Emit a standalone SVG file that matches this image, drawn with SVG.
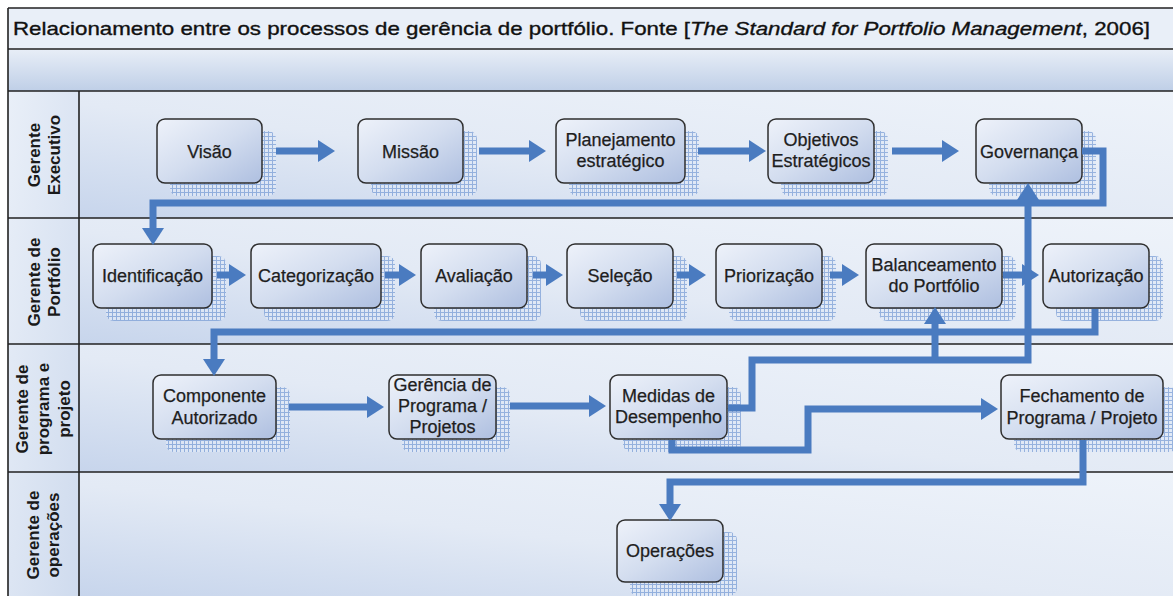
<svg xmlns="http://www.w3.org/2000/svg" width="1173" height="596" viewBox="0 0 1173 596">
<defs>
<style>
.lbl{font-family:"Liberation Sans",Arial,sans-serif;font-size:17px;font-weight:bold;fill:#1a1a1a;text-anchor:middle}
.nt{font-family:"Liberation Sans",Arial,sans-serif;font-size:18px;fill:#1e1e1e;text-anchor:middle;stroke:#1e1e1e;stroke-width:0.25}
.box{fill:url(#nodeG);stroke:#2e2e2e;stroke-width:1.5}
.sh{fill:url(#grid);opacity:0.75}
.con{fill:none;stroke:#4a7bc0;stroke-width:7;stroke-linejoin:miter;marker-end:url(#ah)}
.fr{stroke:#222;stroke-width:1.6;fill:none}
</style>
<linearGradient id="nodeG" x1="0" y1="0" x2="1" y2="1">
<stop offset="0" stop-color="#eef2fa"/><stop offset="0.5" stop-color="#d3ddef"/><stop offset="1" stop-color="#aebfe0"/>
</linearGradient>
<linearGradient id="laneG" x1="1" y1="0" x2="0" y2="1">
<stop offset="0" stop-color="#eef3fa"/><stop offset="0.55" stop-color="#e3eaf5"/><stop offset="1" stop-color="#c7d5ec"/>
</linearGradient>
<linearGradient id="bandG" x1="0" y1="0" x2="0" y2="1">
<stop offset="0" stop-color="#e8eef7"/><stop offset="1" stop-color="#bfcfe7"/>
</linearGradient>
<linearGradient id="colG" x1="0" y1="0" x2="1" y2="1">
<stop offset="0" stop-color="#e9eff8"/><stop offset="1" stop-color="#cfdbee"/>
</linearGradient>
<pattern id="grid" width="4" height="4" patternUnits="userSpaceOnUse">
<rect width="4" height="4" fill="#dfe8f6"/>
<path d="M0 0.5H4M0.5 0V4" stroke="#7c9fd6" stroke-width="1"/>
</pattern>
<marker id="ah" markerUnits="userSpaceOnUse" markerWidth="18" markerHeight="22" refX="0" refY="11" orient="auto">
<path d="M0 0L17 11L0 22Z" fill="#4a7bc0"/>
</marker>
</defs>

<g id="background">
<rect x="0" y="0" width="1173" height="596" fill="#ffffff"/>
<rect x="8" y="8" width="1165" height="41" fill="#e9eff8"/>
<rect x="8" y="49" width="1165" height="42" fill="url(#bandG)"/>
<rect x="79" y="91" width="1094" height="127" fill="url(#laneG)"/>
<rect x="79" y="218" width="1094" height="126" fill="url(#laneG)"/>
<rect x="79" y="344" width="1094" height="128" fill="url(#laneG)"/>
<rect x="79" y="472" width="1094" height="124" fill="url(#laneG)"/>
<rect x="8" y="91" width="71" height="505" fill="url(#colG)"/>
<path class="fr" d="M8 8H1173M8 49H1173M8 91H1173M8 218H1173M8 344H1173M8 472H1173M8 8V596M79 91V596"/>
<text x="13" y="35" font-family="'Liberation Sans',Arial,sans-serif" font-size="19" fill="#111" stroke="#111" stroke-width="0.35" textLength="1137" lengthAdjust="spacingAndGlyphs">Relacionamento entre os processos de gerência de portfólio. Fonte [<tspan font-style="italic">The Standard for Portfolio Management</tspan>, 2006]</text>
</g>

<g id="lane-labels">
<text class="lbl" transform="translate(43,155) rotate(-90)"><tspan x="0" y="-3">Gerente</tspan><tspan x="0" y="17">Executivo</tspan></text>
<text class="lbl" transform="translate(43,282) rotate(-90)"><tspan x="0" y="-3">Gerente de</tspan><tspan x="0" y="17">Portfólio</tspan></text>
<text class="lbl" transform="translate(43,409) rotate(-90)"><tspan x="0" y="-15">Gerente de</tspan><tspan x="0" y="6">programa e</tspan><tspan x="0" y="27">projeto</tspan></text>
<text class="lbl" transform="translate(43,535) rotate(-90)"><tspan x="0" y="-4">Gerente de</tspan><tspan x="0" y="16">operações</tspan></text>
</g>

<g id="n-visao"><rect class="sh" x="170" y="131" width="106" height="65" rx="8"/><rect class="box" x="157" y="119" width="105" height="64" rx="8"/><text class="nt" x="209.5" y="158">Visão</text></g>
<g id="n-missao"><rect class="sh" x="371" y="131" width="106" height="65" rx="8"/><rect class="box" x="358" y="119" width="105" height="64" rx="8"/><text class="nt" x="410.5" y="158">Missão</text></g>
<g id="n-planejamento"><rect class="sh" x="569" y="131" width="130" height="65" rx="8"/><rect class="box" x="556" y="119" width="129" height="64" rx="8"/><text class="nt" x="620.5"><tspan x="620.5" y="146">Planejamento</tspan><tspan x="620.5" y="167">estratégico</tspan></text></g>
<g id="n-objetivos"><rect class="sh" x="781" y="131" width="107" height="65" rx="8"/><rect class="box" x="768" y="119" width="106" height="64" rx="8"/><text class="nt" x="821"><tspan x="821" y="146">Objetivos</tspan><tspan x="821" y="167">Estratégicos</tspan></text></g>
<g id="n-governanca"><rect class="sh" x="989" y="131" width="107" height="65" rx="8"/><rect class="box" x="976" y="119" width="106" height="64" rx="8"/><text class="nt" x="1029" y="158">Governança</text></g>

<g id="n-identificacao"><rect class="sh" x="106" y="256" width="120" height="65" rx="8"/><rect class="box" x="93" y="244" width="119" height="64" rx="8"/><text class="nt" x="152.5" y="282">Identificação</text></g>
<g id="n-categorizacao"><rect class="sh" x="264" y="256" width="131" height="65" rx="8"/><rect class="box" x="251" y="244" width="130" height="64" rx="8"/><text class="nt" x="316" y="282">Categorização</text></g>
<g id="n-avaliacao"><rect class="sh" x="434" y="256" width="107" height="65" rx="8"/><rect class="box" x="421" y="244" width="106" height="64" rx="8"/><text class="nt" x="474" y="282">Avaliação</text></g>
<g id="n-selecao"><rect class="sh" x="580" y="256" width="107" height="65" rx="8"/><rect class="box" x="567" y="244" width="106" height="64" rx="8"/><text class="nt" x="620" y="282">Seleção</text></g>
<g id="n-priorizacao"><rect class="sh" x="729" y="256" width="107" height="65" rx="8"/><rect class="box" x="716" y="244" width="106" height="64" rx="8"/><text class="nt" x="769" y="282">Priorização</text></g>
<g id="n-balanceamento"><rect class="sh" x="879" y="256" width="137" height="65" rx="8"/><rect class="box" x="866" y="244" width="136" height="64" rx="8"/><text class="nt" x="934"><tspan x="934" y="271">Balanceamento</tspan><tspan x="934" y="292">do Portfólio</tspan></text></g>
<g id="n-autorizacao"><rect class="sh" x="1056" y="256" width="107" height="65" rx="8"/><rect class="box" x="1043" y="244" width="106" height="64" rx="8"/><text class="nt" x="1096" y="282">Autorização</text></g>

<g id="n-componente"><rect class="sh" x="166" y="387" width="124" height="65" rx="8"/><rect class="box" x="153" y="375" width="123" height="64" rx="8"/><text class="nt" x="214.5"><tspan x="214.5" y="402">Componente</tspan><tspan x="214.5" y="424">Autorizado</tspan></text></g>
<g id="n-gerencia"><rect class="sh" x="402" y="387" width="108" height="65" rx="8"/><rect class="box" x="389" y="375" width="107" height="64" rx="8"/><text class="nt" x="442.5"><tspan x="442.5" y="391">Gerência de</tspan><tspan x="442.5" y="412">Programa /</tspan><tspan x="442.5" y="433">Projetos</tspan></text></g>
<g id="n-medidas"><rect class="sh" x="623" y="387" width="118" height="65" rx="8"/><rect class="box" x="610" y="375" width="117" height="64" rx="8"/><text class="nt" x="668.5"><tspan x="668.5" y="402">Medidas de</tspan><tspan x="668.5" y="423">Desempenho</tspan></text></g>
<g id="n-fechamento"><rect class="sh" x="1014" y="387" width="163" height="65" rx="8"/><rect class="box" x="1001" y="375" width="162" height="64" rx="8"/><text class="nt" x="1082"><tspan x="1082" y="402">Fechamento de</tspan><tspan x="1082" y="424">Programa / Projeto</tspan></text></g>

<g id="n-operacoes"><rect class="sh" x="630" y="532" width="107" height="64" rx="8"/><rect class="box" x="617" y="520" width="106" height="62" rx="8"/><text class="nt" x="670" y="557">Operações</text></g>

<g id="connectors">
<path class="con" d="M276 151H318"/>
<path class="con" d="M479 151H529"/>
<path class="con" d="M698 151H749"/>
<path class="con" d="M892 151H942"/>
<path class="con" d="M1082 151H1103V203H153V228"/>
<path class="con" d="M217 275H229"/>
<path class="con" d="M385 275H399"/>
<path class="con" d="M533 275H546"/>
<path class="con" d="M677 275H689"/>
<path class="con" d="M830 275H842"/>
<path class="con" d="M1003 275H1022"/>
<path class="con" d="M1095 309V332H214V359"/>
<path class="con" d="M289 407H367"/>
<path class="con" d="M510 406H589"/>
<path class="con" d="M728 408H752V360H1028V200"/>
<path class="con" d="M935 360V324"/>
<path class="con" d="M672 440V450H808V409H981"/>
<path class="con" d="M1083 440V482H670V504"/>
</g>
</svg>
